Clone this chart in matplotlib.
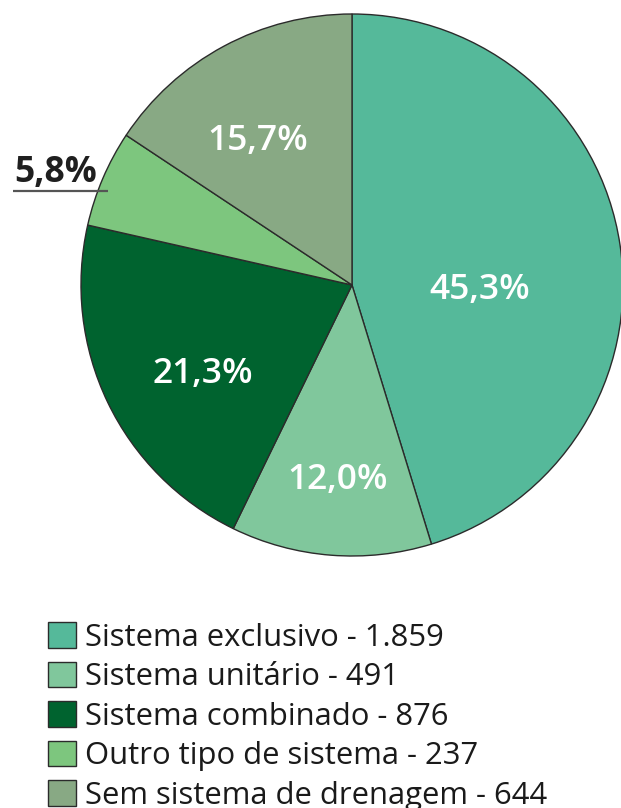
import matplotlib
matplotlib.use("Agg")
import matplotlib.pyplot as plt

categories = ["Sistema exclusivo", "Sistema unitário", "Sistema combinado",
              "Outro tipo de sistema", "Sem sistema de drenagem"]
values = [1859, 491, 876, 237, 644]
colors = ["#55b99a", "#80c79c", "#00632f", "#7dc67e", "#88a984"]

plt.rcParams['font.family'] = ['Open Sans', 'DejaVu Sans']

fig = plt.figure(figsize=(6.21, 8.08), dpi=100)
R = 271
cx, cy = 352, 285
W, H = 621, 808
ax = fig.add_axes([(cx - R) / W, 1 - (cy + R) / H, 2 * R / W, 2 * R / H])

fmt = lambda p: f"{p:.1f}%".replace('.', ',')
wedges, texts, autotexts = ax.pie(
    values, colors=colors, startangle=90, counterclock=False,
    autopct=fmt, pctdistance=0.6, radius=1, frame=False,
    wedgeprops=dict(edgecolor="#2b2b2b", linewidth=1.0),
    textprops=dict(color="white", fontsize=25.5, fontweight="semibold"))
ax.set_xlim(-1, 1)
ax.set_ylim(-1, 1)
ax.set_aspect('equal')
ax.axis('off')

label_pos = [(0.472, -0.020), (-0.052, -0.720), (-0.550, -0.327),
             (-1.092, 0.415), (-0.347, 0.533)]
for t, pos in zip(autotexts, label_pos):
    t.set_position(pos)
    t.set_ha('center')
    t.set_va('center')
    t.set_clip_on(False)
autotexts[3].set_color("#1f1f1f")
autotexts[3].set_fontweight("bold")
ax.plot([-1.251, -0.90], [0.347, 0.347], color="#555555", lw=1.6,
        clip_on=False, solid_capstyle='butt')

labels = [f"{c} - {v:,}".replace(',', '.') for c, v in zip(categories, values)]
leg = fig.legend(wedges, labels, loc='upper left',
                 bbox_to_anchor=(48 / W, 1 - 622 / H), frameon=False,
                 prop=dict(size=22.3, weight='medium'),
                 handlelength=0.9, handleheight=0.9,
                 handletextpad=0.3, labelspacing=0.29, borderpad=0,
                 borderaxespad=0)
for t in leg.get_texts():
    t.set_color("#1a1a1a")

fig.savefig("out.png", dpi=100)
